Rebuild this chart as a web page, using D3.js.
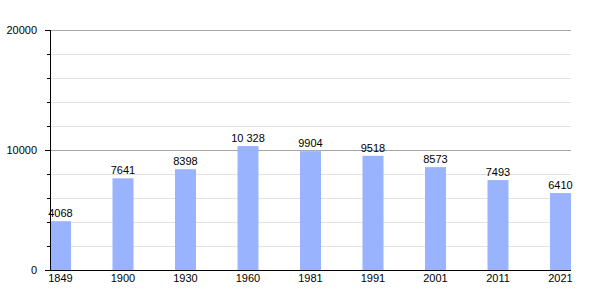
<!DOCTYPE html>
<html>
<head>
<meta charset="utf-8">
<script src="https://cdn.jsdelivr.net/npm/d3@7"></script>
<style>
  body { margin: 0; background: #fff; }
  text { font-family: "Liberation Sans", Arial, sans-serif; font-size: 11px; fill: #000; }
</style>
</head>
<body>
<svg width="600" height="300"></svg>
<script>
var years = ["1849", "1900", "1930", "1960", "1981", "1991", "2001", "2011", "2021"];
var population = [4068, 7641, 8398, 10328, 9904, 9518, 8573, 7493, 6410];
var majorTicks = [0, 10000, 20000];
var minorTicks = [2000, 4000, 6000, 8000, 12000, 14000, 16000, 18000];

var svg = d3.select("svg");
var plotLeft = 50, plotRight = 571, plotTop = 30, plotBottom = 270, barW = 21;

var y = d3.scaleLinear().domain([0, 20000]).range([plotBottom, plotTop]);
var x = d3.scalePoint().domain(years).range([plotLeft, plotRight - barW]);

// format like 10 328
function fmt(v) {
  return v >= 10000 ? d3.format(",")(v).replace(/,/g, " ") : String(v);
}

// light grid
svg.append("g").selectAll("line")
  .data(minorTicks)
  .enter().append("line")
    .attr("x1", plotLeft).attr("x2", plotRight)
    .attr("y1", function(d) { return y(d) + 0.5; })
    .attr("y2", function(d) { return y(d) + 0.5; })
    .attr("stroke", "#e2e2e2");

// major grid
svg.append("g").selectAll("line")
  .data(majorTicks.slice(1))
  .enter().append("line")
    .attr("x1", plotLeft).attr("x2", plotRight)
    .attr("y1", function(d) { return y(d) + 0.5; })
    .attr("y2", function(d) { return y(d) + 0.5; })
    .attr("stroke", "#a8a8a8");

// bars
svg.append("g").selectAll("rect")
  .data(population)
  .enter().append("rect")
    .attr("x", function(d, i) { return x(years[i]); })
    .attr("y", function(d) { return y(d); })
    .attr("width", barW)
    .attr("height", function(d) { return plotBottom - y(d); })
    .attr("fill", "#99b3ff");

// value labels
svg.append("g").selectAll("text")
  .data(population)
  .enter().append("text")
    .attr("x", function(d, i) { return x(years[i]) + barW / 2; })
    .attr("y", function(d) { return y(d) - 4; })
    .attr("text-anchor", "middle")
    .text(fmt);

// y axis ticks
svg.append("g").selectAll("line")
  .data(minorTicks)
  .enter().append("line")
    .attr("x1", plotLeft - 3).attr("x2", plotLeft)
    .attr("y1", function(d) { return y(d) + 0.5; })
    .attr("y2", function(d) { return y(d) + 0.5; })
    .attr("stroke", "#000");
svg.append("g").selectAll("line")
  .data(majorTicks)
  .enter().append("line")
    .attr("x1", plotLeft - 5).attr("x2", plotLeft)
    .attr("y1", function(d) { return y(d) + 0.5; })
    .attr("y2", function(d) { return y(d) + 0.5; })
    .attr("stroke", "#000");
svg.append("g").selectAll("text")
  .data(majorTicks)
  .enter().append("text")
    .attr("x", 37)
    .attr("y", function(d) { return y(d) + 4; })
    .attr("text-anchor", "end")
    .text(function(d) { return d; });

// axis lines
svg.append("line")
  .attr("x1", plotLeft + 0.5).attr("x2", plotLeft + 0.5)
  .attr("y1", plotTop).attr("y2", plotBottom + 1)
  .attr("stroke", "#000");
svg.append("line")
  .attr("x1", plotLeft).attr("x2", plotRight)
  .attr("y1", plotBottom + 0.5).attr("y2", plotBottom + 0.5)
  .attr("stroke", "#000");

// x labels
svg.append("g").selectAll("text")
  .data(years)
  .enter().append("text")
    .attr("x", function(d) { return x(d) + barW / 2; })
    .attr("y", 282)
    .attr("text-anchor", "middle")
    .text(function(d) { return d; });
</script>
</body>
</html>
